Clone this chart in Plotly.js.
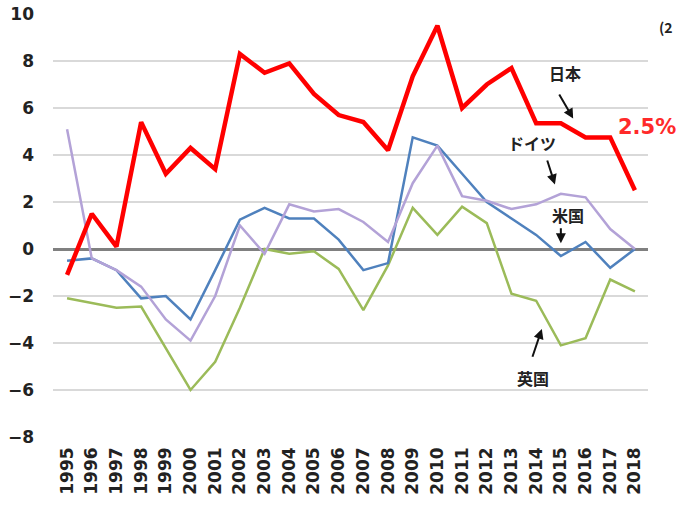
<!DOCTYPE html>
<html>
<head>
<meta charset="utf-8">
<script src="https://cdn.plot.ly/plotly-3.0.1.min.js"></script>
<style>html,body{margin:0;padding:0;background:#fff;}#chart{width:677px;height:506px;}</style>
</head>
<body>
<div id="chart"></div>
<script>
const years = [1995,1996,1997,1998,1999,2000,2001,2002,2003,2004,2005,2006,2007,2008,2009,2010,2011,2012,2013,2014,2015,2016,2017,2018];
const japan   = [-1.1, 1.5, 0.1, 5.4, 3.2, 4.3, 3.4, 8.3, 7.5, 7.9, 6.6, 5.7, 5.4, 4.2, 7.35, 9.5, 6.0, 7.0, 7.7, 5.35, 5.35, 4.75, 4.75, 2.5];
const usa     = [-0.5, -0.4, -0.9, -2.1, -2.0, -3.0, -0.9, 1.25, 1.75, 1.3, 1.3, 0.4, -0.9, -0.6, 4.75, 4.4, 3.2, 2.0, 1.3, 0.6, -0.3, 0.3, -0.8, 0.0];
const germany = [5.1, -0.4, -0.9, -1.6, -3.0, -3.9, -2.0, 1.0, -0.2, 1.9, 1.6, 1.7, 1.15, 0.3, 2.8, 4.4, 2.25, 2.05, 1.7, 1.9, 2.35, 2.2, 0.85, 0.0];
const uk      = [-2.1, -2.3, -2.5, -2.45, -4.2, -6.0, -4.8, -2.5, 0.0, -0.2, -0.1, -0.85, -2.6, -0.7, 1.75, 0.6, 1.8, 1.1, -1.9, -2.2, -4.1, -3.8, -1.3, -1.8];
const yTicks = [-8,-6,-4,-2,0,2,4,6,8,10];
const yearLabels = years.map(String);

const font = "DejaVu Sans, Noto Sans CJK JP, sans-serif";
const cjk = "Noto Sans CJK JP, sans-serif";

const traces = [
  {x: years, y: uk, name: '英国', mode: 'lines', line: {color: '#9bbb59', width: 2.5}},
  {x: years, y: usa, name: '米国', mode: 'lines', line: {color: '#4f81bd', width: 2.5}},
  {x: years, y: germany, name: 'ドイツ', mode: 'lines', line: {color: '#b3a2d7', width: 2.5}},
  {x: years, y: japan, name: '日本', mode: 'lines', line: {color: '#ff0000', width: 4.5}}
];

function label(text, x, y, extra) {
  return Object.assign({x: x, y: y, xref: 'x', yref: 'y', text: text, showarrow: false,
    font: {family: cjk, size: 16, color: '#222', weight: 'bold'}}, extra || {});
}
function arrow(x0, y0, x1, y1) {
  return {x: x1, y: y1, ax: x0, ay: y0, xref: 'x', yref: 'y', axref: 'x', ayref: 'y',
    text: '', showarrow: true, arrowhead: 2, arrowsize: 1, arrowwidth: 2, arrowcolor: '#111'};
}

const layout = {
  width: 677, height: 506,
  margin: {l: 53, r: 29, t: 14, b: 69},
  paper_bgcolor: '#fff', plot_bgcolor: '#fff',
  showlegend: false,
  xaxis: {
    range: [1994.43, 2018.53],
    tickmode: 'array', tickvals: years, ticktext: yearLabels,
    tickangle: -90, showgrid: false, zeroline: false, showline: false, ticks: '',
    ticklabelstandoff: 6,
    tickfont: {family: font, size: 17, color: '#222', weight: 'bold'}
  },
  yaxis: {
    range: [-8, 10], tickmode: 'array', tickvals: yTicks,
    showgrid: true, gridcolor: '#d9d9d9', gridwidth: 1.5,
    zeroline: true, zerolinecolor: '#808080', zerolinewidth: 3,
    showline: false, ticks: '', ticklabelstandoff: 18,
    tickfont: {family: font, size: 17, color: '#222', weight: 'bold'}
  },
  annotations: [
    label('日本', 2015.15, 7.5),
    arrow(2014.9, 6.64, 2015.5, 5.55),
    label('2.5%', 2018.5, 5.2, {font: {family: font, size: 21, color: '#ff2a2a', weight: 'bold'}}),
    label('ドイツ', 2013.83, 4.5),
    arrow(2014.43, 3.83, 2014.76, 2.75),
    label('米国', 2015.3, 1.45),
    arrow(2015.0, 0.95, 2015.0, 0.25),
    label('英国', 2013.87, -5.5),
    arrow(2013.83, -4.65, 2014.23, -3.4),
    {x: (657 - 53) / 595, y: (437 - 27) / 423, xref: 'paper', yref: 'paper',
     xanchor: 'left', yanchor: 'middle', text: '(2', showarrow: false,
     font: {family: cjk, size: 14, color: '#222', weight: 'bold'}}
  ]
};

Plotly.newPlot('chart', traces, layout, {displayModeBar: false, staticPlot: true});
</script>
</body>
</html>
